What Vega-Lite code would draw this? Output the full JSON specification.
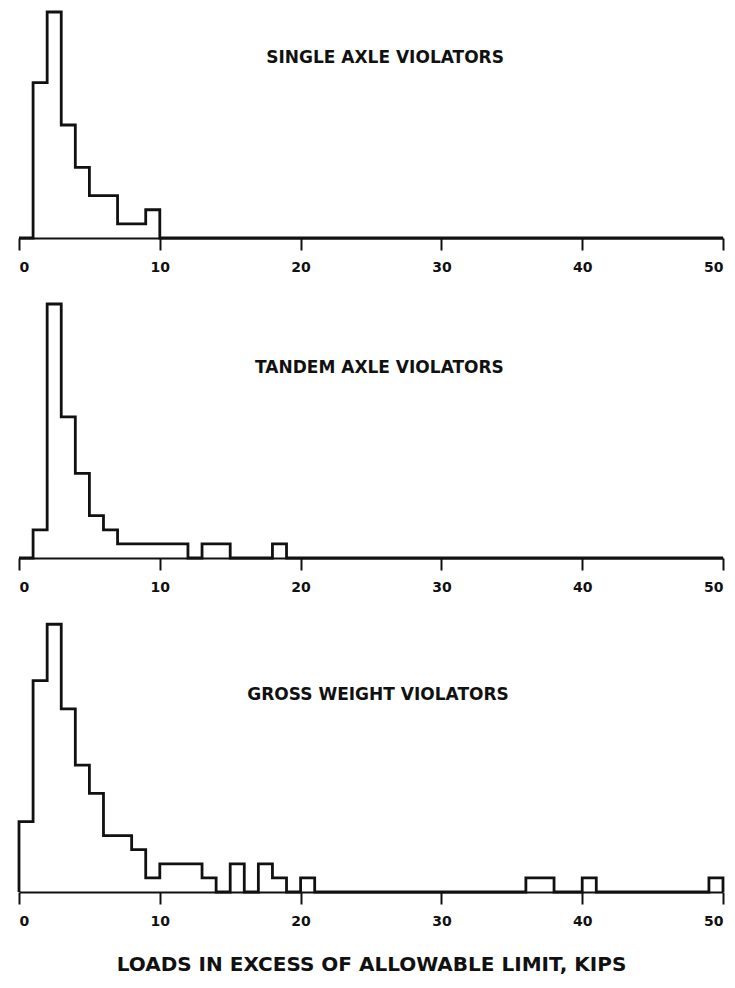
{
  "$schema": "https://vega.github.io/schema/vega-lite/v6.json",
  "padding": {"left": 13, "top": 6, "right": 8, "bottom": 5},
  "background": "white",
  "spacing": 24,
  "config": {
    "view": {"stroke": null},
    "font": "DejaVu Sans",
    "axisX": {
      "domainColor": "#111", "domainWidth": 2,
      "tickColor": "#111", "tickWidth": 2, "tickSize": 12,
      "labelFont": "DejaVu Sans", "labelFontWeight": "bold", "labelFontSize": 14, "labelColor": "#111", "labelPadding": 10,
      "grid": false,
      "titleFont": "DejaVu Sans", "titleFontSize": 20, "titleFontWeight": "bold", "titleColor": "#111", "titlePadding": 26
    }
  },
  "datasets": {
    "single": [
      {"kips": 0, "count": 0}, {"kips": 1, "count": 11}, {"kips": 2, "count": 16}, {"kips": 3, "count": 8},
      {"kips": 4, "count": 5}, {"kips": 5, "count": 3}, {"kips": 7, "count": 1}, {"kips": 9, "count": 2},
      {"kips": 10, "count": 0}, {"kips": 50, "count": 0}
    ],
    "tandem": [
      {"kips": 0, "count": 0}, {"kips": 1, "count": 2}, {"kips": 2, "count": 18}, {"kips": 3, "count": 10},
      {"kips": 4, "count": 6}, {"kips": 5, "count": 3}, {"kips": 6, "count": 2}, {"kips": 7, "count": 1},
      {"kips": 12, "count": 0}, {"kips": 13, "count": 1}, {"kips": 15, "count": 0}, {"kips": 18, "count": 1},
      {"kips": 19, "count": 0}, {"kips": 50, "count": 0}
    ],
    "gross": [
      {"kips": 0, "count": 0}, {"kips": 0, "count": 5}, {"kips": 1, "count": 15}, {"kips": 2, "count": 19},
      {"kips": 3, "count": 13}, {"kips": 4, "count": 9}, {"kips": 5, "count": 7}, {"kips": 6, "count": 4},
      {"kips": 8, "count": 3}, {"kips": 9, "count": 1}, {"kips": 10, "count": 2}, {"kips": 13, "count": 1},
      {"kips": 14, "count": 0}, {"kips": 15, "count": 2}, {"kips": 16, "count": 0}, {"kips": 17, "count": 2},
      {"kips": 18, "count": 1}, {"kips": 19, "count": 0}, {"kips": 20, "count": 1}, {"kips": 21, "count": 0},
      {"kips": 36, "count": 1}, {"kips": 38, "count": 0}, {"kips": 40, "count": 1}, {"kips": 41, "count": 0},
      {"kips": 49, "count": 1}, {"kips": 50, "count": 0}
    ]
  },
  "vconcat": [
    {
      "width": 704, "height": 226,
      "layer": [
        {
          "data": {"name": "single"},
          "mark": {"type": "line", "interpolate": "step-after", "color": "#111", "strokeWidth": 2.8},
          "encoding": {
            "x": {"field": "kips", "type": "quantitative", "scale": {"domain": [0, 50], "nice": false}, "axis": {"title": null, "values": [0, 10, 20, 30, 40, 50], "format": "d"}},
            "y": {"field": "count", "type": "quantitative", "scale": {"domain": [0, 16], "nice": false}, "axis": null}
          }
        },
        {
          "data": {"values": [{"label": "SINGLE AXLE VIOLATORS"}]},
          "mark": {"type": "text", "font": "DejaVu Sans", "fontWeight": "bold", "fontSize": 17, "color": "#111"},
          "encoding": {
            "x": {"datum": 26, "type": "quantitative"},
            "y": {"datum": 12.77, "type": "quantitative"},
            "text": {"field": "label"}
          }
        }
      ]
    },
    {
      "width": 704, "height": 254,
      "layer": [
        {
          "data": {"name": "tandem"},
          "mark": {"type": "line", "interpolate": "step-after", "color": "#111", "strokeWidth": 2.8},
          "encoding": {
            "x": {"field": "kips", "type": "quantitative", "scale": {"domain": [0, 50], "nice": false}, "axis": {"title": null, "values": [0, 10, 20, 30, 40, 50], "format": "d"}},
            "y": {"field": "count", "type": "quantitative", "scale": {"domain": [0, 18], "nice": false}, "axis": null}
          }
        },
        {
          "data": {"values": [{"label": "TANDEM AXLE VIOLATORS"}]},
          "mark": {"type": "text", "font": "DejaVu Sans", "fontWeight": "bold", "fontSize": 17, "color": "#111"},
          "encoding": {
            "x": {"datum": 25.6, "type": "quantitative"},
            "y": {"datum": 13.5, "type": "quantitative"},
            "text": {"field": "label"}
          }
        }
      ]
    },
    {
      "width": 704, "height": 271,
      "layer": [
        {
          "data": {"name": "gross"},
          "mark": {"type": "line", "interpolate": "step-after", "color": "#111", "strokeWidth": 2.8},
          "encoding": {
            "x": {"field": "kips", "type": "quantitative", "scale": {"domain": [0, 50], "nice": false}, "axis": {"title": "LOADS IN EXCESS OF ALLOWABLE LIMIT, KIPS", "values": [0, 10, 20, 30, 40, 50], "format": "d"}},
            "y": {"field": "count", "type": "quantitative", "scale": {"domain": [0, 19.23], "nice": false}, "axis": null}
          }
        },
        {
          "data": {"values": [{"label": "GROSS WEIGHT VIOLATORS"}]},
          "mark": {"type": "text", "font": "DejaVu Sans", "fontWeight": "bold", "fontSize": 17, "color": "#111"},
          "encoding": {
            "x": {"datum": 25.5, "type": "quantitative"},
            "y": {"datum": 13.95, "type": "quantitative"},
            "text": {"field": "label"}
          }
        }
      ]
    }
  ]
}
